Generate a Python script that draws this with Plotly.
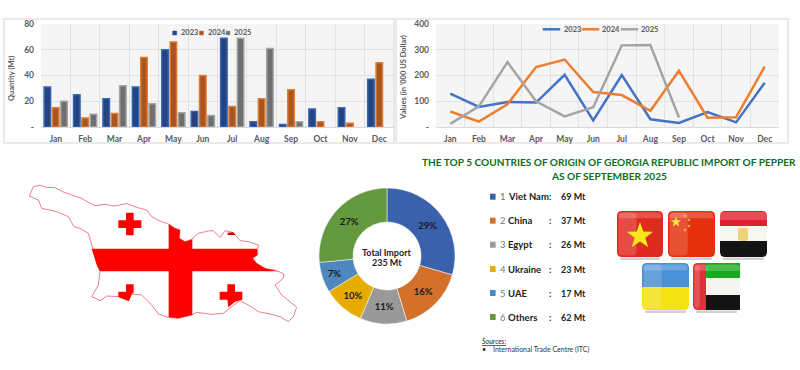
import plotly.graph_objects as go
import math

W, H = 800, 370
MONTHS = ["Jan","Feb","Mar","Apr","May","Jun","Jul","Aug","Sep","Oct","Nov","Dec"]
QTY_2023 = [31,25,22,31,60,12,69,4,2,14,15,37]
QTY_2024 = [15,7,10.5,54,66,40,16,22,29,4,3,50]
QTY_2025 = [20,10,32,18,11,9,69,61,4,None,None,None]
VAL_2023 = [130,78,97,95,203,26,202,30,16,58,18,172]
VAL_2024 = [60,21,88,233,262,136,124,63,218,36,38,235]
VAL_2025 = [12,80,252,100,41,77,317,318,37,None,None,None]
COUNTRIES = ["Viet Nam","China","Egypt","Ukraine","UAE","Others"]
IMPORTS = [69,37,26,23,17,62]
SHARE_LABELS = ["29%","16%","11%","10%","7%","27%"]
PIE_COLORS = ["#3a62ab","#d2702c","#999999","#e6ac00","#4f88bf","#64993f"]
FONT = "Lato"
GREY = "#595959"

fig = go.Figure()
def px(x): return x / W
def py(y): return 1 - y / H
def path(pts):
    return "M" + " L".join(f"{px(x):.5f},{py(y):.5f}" for x, y in pts) + " Z"
shapes, notes = [], []
def poly(pts, fill, line=None, lw=0, op=1):
    shapes.append(dict(type="path", xref="paper", yref="paper", path=path(pts), fillcolor=fill,
                       line=dict(color=line or "rgba(0,0,0,0)", width=lw), opacity=op, layer="above"))
def rrect(x0, y0, x1, y1, fill, rt=0, rb=0, rl=None, op=1):
    def pt(x, y): return f"{px(x):.5f},{py(y):.5f}"
    rtr = 0 if rl else rt
    rbr = 0 if rl else rb
    d = (f"M{pt(x0+rt,y0)} L{pt(x1-rtr,y0)} Q{pt(x1,y0)} {pt(x1,y0+rtr)} L{pt(x1,y1-rbr)} Q{pt(x1,y1)} {pt(x1-rbr,y1)} "
         f"L{pt(x0+rb,y1)} Q{pt(x0,y1)} {pt(x0,y1-rb)} L{pt(x0,y0+rt)} Q{pt(x0,y0)} {pt(x0+rt,y0)} Z")
    shapes.append(dict(type="path", xref="paper", yref="paper", path=d, fillcolor=fill, opacity=op,
                       line=dict(width=0), layer="above"))
def text(x, y, s, size=9, color="#222222", bold=False, anchor="left", italic=False, angle=0):
    notes.append(dict(xref="paper", yref="paper", x=px(x), y=py(y), text=s, showarrow=False, textangle=angle,
                      xanchor=anchor, yanchor="middle", align=anchor,
                      font=dict(family=FONT, size=size, color=color,
                                weight="bold" if bold else "normal",
                                style="italic" if italic else "normal")))

# ---------- panels ----------
for x0, x1 in [(4, 394), (396, 788)]:
    shapes.append(dict(type="rect", xref="paper", yref="paper", x0=px(x0), x1=px(x1), y0=py(143), y1=py(19),
                       line=dict(color="#e2e2e2", width=1.5), layer="below"))

# ---------- bars ----------
BAR_STYLE = [("2023", QTY_2023, "#24437f", "#3566b5", 172.7, 178.7),
             ("2024", QTY_2024, "#a8551f", "#e07b32", 199.5, 205.7),
             ("2025", QTY_2025, "#6f6f6f", "#a5a5a5", 226, 232.3)]
for name, vals, fill, edge, sx, tx in BAR_STYLE:
    fig.add_trace(go.Bar(x=MONTHS, y=vals, name=name, xaxis="x", yaxis="y", showlegend=False,
                         marker=dict(color=fill, line=dict(color=edge, width=1.5))))
    shapes.append(dict(type="rect", xref="paper", yref="paper", x0=px(sx), x1=px(sx+4), y0=py(35), y1=py(31),
                       fillcolor=fill, line=dict(color=edge, width=0.6), layer="above"))
    text(tx, 33, name, 7.5, GREY, True)
# ---------- lines ----------
LINE_STYLE = [("2023", VAL_2023, "#4472c4", 542.7, 561.7), ("2024", VAL_2024, "#ed7d31", 581.7, 600),
              ("2025", VAL_2025, "#a5a5a5", 620.7, 639)]
for name, vals, col, sx, tx in LINE_STYLE:
    fig.add_trace(go.Scatter(x=MONTHS, y=vals, name=name, mode="lines", xaxis="x2", yaxis="y2", showlegend=False,
                             line=dict(color=col, width=2.5), connectgaps=False))
    shapes.append(dict(type="line", xref="paper", yref="paper", x0=px(sx), x1=px(sx+17.5), y0=py(29.3), y1=py(29.3),
                       line=dict(color=col, width=2.5), layer="above"))
    text(tx, 29.3, name, 7.5, GREY, True)
# ---------- donut ----------
fig.add_trace(go.Pie(labels=COUNTRIES, values=IMPORTS, text=SHARE_LABELS, textinfo="text", hole=0.5, sort=False,
                     direction="clockwise", rotation=0, showlegend=False,
                     marker=dict(colors=PIE_COLORS, line=dict(color="white", width=0.5)),
                     textposition="inside", insidetextorientation="horizontal",
                     textfont=dict(family=FONT, size=9.5, color="#1a1a1a", weight="bold"),
                     domain=dict(x=[px(387-68), px(387+68)], y=[py(256+68), py(256-68)])))
text(387, 252, "Total Import", 9, "#222222", True, "center")
text(387, 262, "235 Mt", 9, "#222222", True, "center")

# ---------- title ----------
text(609, 162, "THE TOP 5 COUNTRIES OF ORIGIN OF GEORGIA REPUBLIC IMPORT OF PEPPER", 10.1, "#0b6e1b", True, "center")
text(609, 176, "AS OF SEPTEMBER 2025", 10.1, "#0b6e1b", True, "center")

# ---------- custom list ----------
rows = [196.7, 220.7, 244.7, 269, 293, 317]
for i, (c, v, col, y) in enumerate(zip(COUNTRIES, IMPORTS, PIE_COLORS, rows)):
    shapes.append(dict(type="rect", xref="paper", yref="paper", x0=px(490), x1=px(495.6), y0=py(y+3), y1=py(y-3),
                       fillcolor=col, line=dict(width=0)))
    text(498, y, str(i+1), 9.5, "#777777")
    text(505.5, y, c, 9.5, "#222222", True)
    text(547, y, ":", 9, "#222222", True)
    text(559, y, f"{v} Mt", 9, "#222222", True)
text(480, 341, "<u>Sources:</u>", 7, "#222222", False, italic=True)
text(480, 349, "•", 7, "#222222")
text(491, 349, "International Trade Centre (ITC)", 7, "#333333")
text(11, 79, "Quantity (Mt)", 7.5, GREY, True, "center", angle=-90)
text(403, 78, "Values (in '000 US Dollar)", 7.5, GREY, True, "center", angle=-90)

# ---------- Georgia map ----------
def z(pts): return [(x/3, 170 + y/3) for x, y in pts]
OUTLINE = [(88,78),(100,50),(120,46),(140,52),(165,53),(190,66),(215,75),(245,85),(265,97),(285,107),(315,103),(345,108),
           (380,101),(410,112),(440,120),(455,140),(480,153),(505,162),(525,175),(540,180),(538,205),(555,215),(575,208),
           (595,190),(625,183),(640,182),(660,203),(675,182),(700,188),(720,212),(745,215),(775,225),(772,255),(758,265),
           (770,280),(795,295),(830,302),(852,312),(850,325),(825,345),(845,375),(870,395),(890,412),(880,440),(865,455),
           (840,440),(810,432),(775,425),(745,405),(720,392),(695,410),(670,430),(635,433),(590,427),(575,435),(535,445),
           (505,442),(475,432),(455,405),(425,375),(395,372),(385,393),(355,380),(320,378),(300,392),(275,380),(295,345),
           (300,305),(280,240),(265,190),(240,175),(222,170),(205,140),(170,125),(125,115),(115,90)]
poly(z(OUTLINE), "white", "#e8606a", 0.8)
poly(z([(275,236),(772,236),(772,255),(758,265),(770,280),(795,295),(835,304),(300,304),(290,285)]), "#ff0000")
poly(z([(506,162),(525,175),(540,180),(538,205),(555,215),(577,208),(577,435),(535,445),(506,442)]), "#ff0000")
poly(z([(378,128),(401,128),(401,151),(424,151),(424,174),(401,174),(401,196),(378,196),(378,174),(355,174),(355,151),(378,151)]), "#ff0000")
poly(z([(378,343),(401,343),(401,368),(395,372),(387,393),(355,381),(355,365),(378,365)]), "#ff0000")
poly(z([(682,343),(705,343),(705,365),(727,365),(727,389),(705,395),(685,412),(682,389),(659,389),(659,365),(682,365)]), "#ff0000")
poly(z([(683,188),(700,187),(706,195),(683,195)]), "#cc0000")

# ---------- flags ----------
def base_shadow(x0, x1, y):
    rrect(x0+3, y, x1-3, y+2.5, "#999999", 1, 1, op=0.45)
def gloss(x0, y0, x1, y1):
    rrect(x0+1.5, y0+1.5, x0+(x1-x0)*0.42, y1-1.5, "white", 4, 4, op=0.16)
    rrect(x0+1.5, y0+1.5, x1-1.5, y0+(y1-y0)*0.16, "white", 4, 1, op=0.2)
def star(cx, cy, r, col):
    pts = []
    for k in range(10):
        a = -math.pi/2 + k*math.pi/5
        rr = r if k % 2 == 0 else r*0.4
        pts.append((cx+rr*math.cos(a), cy+rr*math.sin(a)))
    poly(pts, col)
base_shadow(617, 663, 257.5)
rrect(617, 211, 663, 257, "#e02a20", 5, 5)
gloss(617, 211, 663, 257)
star(640, 236, 14, "#f7e61c")
base_shadow(668, 715, 257.5)
rrect(668, 211, 715, 257, "#e4300f", 5, 5)
gloss(668, 211, 715, 257)
star(676, 222, 5.5, "#f7e04a")
for sx, sy in [(685, 216), (689, 220), (689, 226), (685, 230)]:
    star(sx, sy, 1.7, "#f7e04a")
base_shadow(720, 767, 257.5)
rrect(720, 211, 767, 226, "#e0202f", 5, 0)
rrect(720, 226, 767, 241, "#f7f7f2")
rrect(720, 241, 767, 257, "#141414", 0, 5)
rrect(738, 228, 748, 241, "#eed27a", 2, 3)
rrect(720, 212, 767, 220, "white", 4, 0, op=0.2)
base_shadow(642, 689, 310.5)
rrect(642, 263, 689, 287, "#4a90d6", 5, 0)
rrect(642, 287, 689, 310, "#f4e312", 0, 5)
gloss(642, 263, 689, 310)
base_shadow(693, 740, 310.5)
rrect(706, 263, 740, 278, "#18aa1e", 0, 0)
rrect(706, 278, 740, 295, "#f5f5f2")
rrect(706, 295, 740, 310, "#141414", 0, 0)
rrect(693, 263, 706, 310, "#e0303a", 5, 5, rl=True)
rrect(706, 264.5, 740, 271, "white", 3, 0, op=0.22)
gloss(693, 263, 693+16, 310)

axis_font = dict(family=FONT, size=8.5, color=GREY, weight="bold")
def xax(domain, anchor):
    return dict(domain=domain, anchor=anchor, type="category", tickson="boundaries", showgrid=True, gridcolor="#e2e2e2",
                gridwidth=1.2, showline=True, linecolor="#d9d9d9", ticks="", tickfont=axis_font, fixedrange=True,
                categoryorder="array", categoryarray=MONTHS, automargin=False, range=[-0.5, 11.5], ticklabelstandoff=4)
def yax(rng, vals, texts, anchor):
    return dict(domain=[py(127), py(24)], anchor=anchor, range=rng, tickvals=vals, ticktext=texts, showgrid=True,
                gridcolor="#e2e2e2", gridwidth=1.2, zeroline=False, ticks="", tickfont=axis_font, automargin=False,
                ticklabelstandoff=6)
fig.update_layout(
    width=W, height=H, margin=dict(l=0, r=0, t=0, b=0), paper_bgcolor="white", plot_bgcolor="#f5f5f5",
    autosize=False, barmode="group", bargap=0.15, bargroupgap=0.22,
    xaxis=xax([px(41), px(394)], "y"), yaxis=yax([0, 80], [0,20,40,60,80], ["-","20","40","60","80"], "x"),
    xaxis2=xax([px(436), px(779)], "y2"), yaxis2=yax([0, 400], [0,100,200,300,400], ["-","100","200","300","400"], "x2"),
    shapes=shapes, annotations=notes, font=dict(family=FONT),
)
fig.write_html("out.html", config=dict(displayModeBar=False), post_script="document.body.style.margin='0';")
